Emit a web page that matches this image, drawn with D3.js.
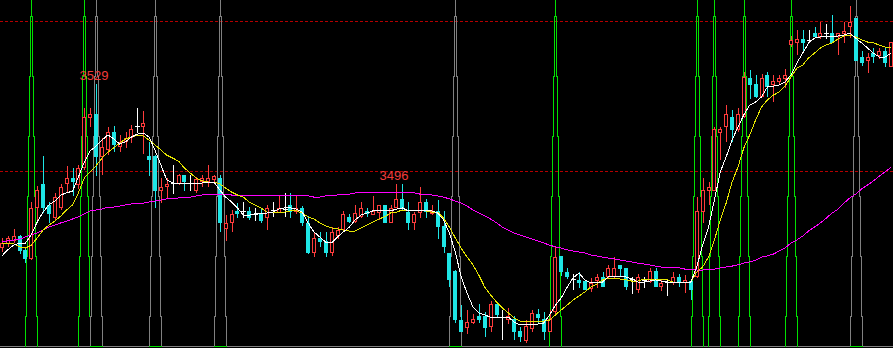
<!DOCTYPE html>
<html lang="zh">
<head>
    <meta charset="UTF-8">
    <title>K线图</title>
    <script src="https://d3js.org/d3.v7.min.js"></script>
    <style>
        body { margin: 0; background: #000; }
        svg { display: block; background: #000; }
    </style>
</head>
<body>
    <svg id="chart"></svg>

    <script>
        const width = 893;
        const height = 348;

        // daily bars
        const opens = [
            3474.3, 3475.7, 3476.7, 3478.3, 3473.7, 3470.7, 3487.7, 3495.7, 3488.7, 3484.3,
            3487.7, 3495.7, 3497.7, 3495.3, 3501, 3517.7, 3519, 3504.7, 3507, 3513,
            3508, 3509.7, 3511, 3515, 3514.7, 3505, 3505, 3493.3, 3494.7, 3496,
            3495.7, 3498.7, 3496, 3493.3, 3496.3, 3496.3, 3497, 3497.7, 3480.7, 3482.7,
            3486.7, 3486.7, 3486.7, 3485.7, 3485.7, 3484.3, 3487, 3486, 3487.3, 3488.7,
            3486.3, 3487.7, 3482.7, 3472.7, 3477.7, 3476.7, 3472.7, 3478.3, 3480.3, 3484.7,
            3483, 3484.7, 3486.7, 3485.3, 3486, 3488.7, 3482.7, 3487.7, 3490.7, 3486.3,
            3482.7, 3486, 3489.7, 3485.7, 3486.7, 3481.7, 3472.7, 3466.7, 3450.3, 3447.7,
            3449.3, 3451.7, 3451.7, 3448, 3455.7, 3451.3, 3450.3, 3450.7, 3446.7, 3443.3,
            3447.3, 3452.3, 3450.7, 3446.3, 3453, 3471.7, 3466.3, 3464, 3463.7, 3463.3,
            3460.7, 3463.3, 3464.7, 3464.7, 3464.7, 3468.7, 3467.7, 3464, 3460.3, 3463.7,
            3463, 3466.7, 3461.3, 3463, 3462.7, 3464.7, 3462.7, 3463.3, 3464.7, 3486.3,
            3493.3, 3493.3, 3512.7, 3514.7, 3518, 3513.7, 3518, 3531, 3529, 3524.7,
            3532, 3528.7, 3529.7, 3530.7, 3542, 3542.7, 3544, 3543.7, 3546, 3544.7,
            3546, 3546, 3544.7, 3545.7, 3548, 3551, 3538, 3536.7, 3539.3, 3538.3,
            3540, 3534.7
        ];
        const highs = [
            3477.7, 3478.3, 3480.7, 3478.7, 3474.3, 3489.7, 3495, 3505, 3489.7, 3492.7,
            3495.7, 3501.7, 3501, 3502, 3521, 3521, 3529, 3511, 3514.7, 3515,
            3512, 3513, 3515.3, 3521, 3520, 3509.7, 3505.3, 3497.7, 3497.7, 3502,
            3499, 3498.7, 3498.7, 3498, 3498.7, 3502, 3498.7, 3498.7, 3485.3, 3487,
            3489.3, 3489.7, 3488, 3487.7, 3487.7, 3488.7, 3489.7, 3492, 3492.7, 3492.7,
            3492, 3488.3, 3485, 3479.7, 3479.7, 3479.7, 3481.3, 3481.3, 3486.7, 3485.7,
            3488.7, 3489.7, 3487.7, 3491.7, 3488.7, 3488.7, 3488.7, 3495.7, 3495.7, 3489.7,
            3486.3, 3494.7, 3490.7, 3488.7, 3490.3, 3486.7, 3472.7, 3467, 3455.3, 3453.7,
            3452.3, 3455.7, 3453, 3456.7, 3455.7, 3453.7, 3454.3, 3451.7, 3448, 3450.3,
            3453.7, 3454, 3453, 3453.7, 3474.7, 3471.7, 3467.7, 3465.7, 3466.3, 3463.7,
            3464.3, 3465.7, 3466.3, 3468.7, 3471.3, 3468.7, 3467.7, 3464.7, 3465.7, 3464.7,
            3467.7, 3467.7, 3464, 3463.7, 3466.3, 3465.7, 3465.3, 3463.7, 3491.3, 3497.7,
            3496.3, 3514.7, 3514.7, 3522, 3520.3, 3521, 3533, 3533.7, 3532, 3532.3,
            3533, 3532, 3532, 3534, 3545, 3547, 3547, 3547, 3548, 3549.7,
            3549, 3552, 3546, 3549.7, 3555, 3551, 3540, 3539.3, 3541, 3541,
            3541, 3543
        ];
        const lows = [
            3473, 3474.7, 3476, 3472.3, 3469.3, 3470.3, 3483.7, 3486, 3482.7, 3483.3,
            3487, 3493, 3491.7, 3494, 3500.3, 3514.7, 3498.3, 3498.7, 3505.3, 3506.3,
            3506.3, 3507.7, 3509.3, 3512.7, 3505.7, 3498.3, 3487.7, 3489.3, 3490.7, 3492.3,
            3495.3, 3493.3, 3493.3, 3492.7, 3494.7, 3494.7, 3496, 3479.7, 3476.7, 3479.7,
            3484.3, 3484.3, 3483.7, 3483.3, 3482.7, 3480.3, 3484.7, 3486, 3484.7, 3484.3,
            3485.7, 3481.7, 3472.3, 3471.3, 3474.7, 3471.3, 3471.7, 3477.3, 3479.7, 3482.7,
            3482.7, 3484.3, 3484.7, 3485.3, 3483.7, 3482.7, 3482.7, 3487.7, 3486.7, 3480.3,
            3480.3, 3484.3, 3484.3, 3485.3, 3477.3, 3472.7, 3461.3, 3449.3, 3446.3, 3445.7,
            3449, 3449.3, 3444.7, 3446.3, 3451, 3443.7, 3449, 3443.7, 3443, 3442.7,
            3446.3, 3449, 3443.7, 3446.3, 3452.3, 3465, 3464, 3460.3, 3461, 3460.3,
            3459.7, 3461, 3461.3, 3464, 3464, 3464.7, 3460.3, 3459, 3459.3, 3461,
            3462.7, 3461.3, 3460, 3458.3, 3462, 3461.3, 3459.3, 3457, 3464.3, 3482.7,
            3488.7, 3493.3, 3503.7, 3509.7, 3509.7, 3513, 3517.7, 3524, 3524.3, 3524.7,
            3524.7, 3523, 3528.7, 3527.7, 3541.3, 3538.7, 3539.7, 3542.7, 3544.7, 3544,
            3544, 3542.7, 3538.7, 3542.7, 3544.3, 3536.7, 3535, 3532.7, 3536, 3537.3,
            3534.7, 3534.7
        ];
        const closes = [
            3476, 3477.7, 3478.3, 3473.3, 3470.7, 3487.7, 3493.7, 3487.7, 3485.7, 3491.3,
            3494.7, 3497.7, 3496.3, 3501, 3518, 3519, 3504.7, 3508, 3513, 3508.7,
            3509.7, 3511, 3514, 3515, 3516, 3503.7, 3493.3, 3494.7, 3495.7, 3496,
            3498.7, 3496.3, 3496, 3497.3, 3497.7, 3497.7, 3498.3, 3482.7, 3482.7, 3485.7,
            3485.7, 3486.7, 3484.3, 3485.7, 3483.3, 3487.7, 3487, 3487.7, 3487.3, 3486.3,
            3487.7, 3482.7, 3472.7, 3477.7, 3476.3, 3472.7, 3479.7, 3480.3, 3485.7, 3483,
            3486, 3487.7, 3485.7, 3486.7, 3488.7, 3482.7, 3487.7, 3490.7, 3487.3, 3482.7,
            3485.7, 3489.7, 3486.3, 3486.7, 3481.3, 3474.7, 3463.7, 3450.3, 3446.3, 3449.7,
            3450.7, 3450.3, 3447.7, 3455.7, 3452, 3451.3, 3451.7, 3446.3, 3444.7, 3448.3,
            3452.7, 3451, 3446.3, 3450.7, 3471.3, 3466.3, 3464.7, 3464, 3462.7, 3460.3,
            3462.7, 3464.7, 3461.3, 3467.7, 3467.7, 3467.3, 3461.3, 3464, 3464.7, 3463.7,
            3466.7, 3461.3, 3462.7, 3463, 3464.7, 3462.7, 3463.7, 3460.3, 3486.7, 3493.7,
            3494.7, 3514, 3514, 3519, 3513.7, 3519, 3531.3, 3528.7, 3524.7, 3531,
            3528, 3530, 3531, 3532, 3543.7, 3544, 3542.7, 3543.7, 3544.7, 3546,
            3546, 3542.7, 3546, 3546.7, 3549.7, 3536.7, 3536, 3538, 3538, 3540,
            3536, 3543
        ];

        // moving averages as drawn (white, yellow, magenta)
        const ma5 = [
            3471.7, 3473.7, 3475.3, 3476, 3476, 3478.7, 3483, 3486.3, 3488.7, 3490,
            3492, 3492.7, 3493.3, 3498, 3503, 3506.7, 3508.3, 3510.3, 3512, 3510.7,
            3509, 3509.7, 3511.3, 3512.3, 3512.7, 3511.3, 3507, 3502, 3497, 3496,
            3496, 3496, 3496, 3496, 3496, 3496.3, 3496.3, 3493.7, 3491.3, 3489.7,
            3487.7, 3485.3, 3485.3, 3485.7, 3485.7, 3486, 3486.3, 3487.3, 3487.7, 3487.7,
            3487.3, 3486.3, 3482.7, 3479.7, 3478, 3476.3, 3476, 3478, 3479.7, 3481.3,
            3483.7, 3485.3, 3486, 3486.7, 3487, 3486.7, 3486.7, 3487.3, 3487.7, 3486.7,
            3487, 3487, 3487, 3486.7, 3486, 3483.7, 3479.3, 3473, 3464.7, 3459.3,
            3454.7, 3452.7, 3452, 3451.3, 3451.3, 3451.3, 3451.3, 3449.7, 3448.7, 3448.7,
            3449, 3449, 3449.3, 3452, 3455.3, 3457.7, 3461.3, 3464.3, 3466, 3463.7,
            3462.7, 3462.7, 3463, 3464.7, 3465, 3464.7, 3464.7, 3464, 3463, 3463,
            3463.3, 3463.7, 3463.3, 3463, 3463, 3463, 3463, 3463, 3468, 3475.3,
            3481.3, 3490.3, 3499.7, 3504.7, 3510.3, 3514.7, 3518.7, 3522, 3523, 3524.7,
            3528, 3528.3, 3528.7, 3529.7, 3532, 3536, 3539.3, 3542.7, 3544.3, 3544.7,
            3544.7, 3544.7, 3545, 3545.3, 3546, 3544.3, 3542.7, 3541, 3539.3, 3538,
            3538, 3539.3
        ];
        const ma10 = [
            3476, 3476, 3475.7, 3474.7, 3474.3, 3475.3, 3477.7, 3480.3, 3482, 3483.3,
            3485, 3487, 3488.7, 3492.7, 3497.7, 3499.7, 3501.7, 3504.3, 3506.3, 3507.7,
            3509.3, 3510.7, 3511.3, 3512, 3511.7, 3510.3, 3508.7, 3507, 3505.3, 3504.3,
            3503.3, 3501, 3499.3, 3497.7, 3496.7, 3496.3, 3496.3, 3495.7, 3494.3, 3493,
            3492, 3491.3, 3489.7, 3488.7, 3487.7, 3486.3, 3486.3, 3486.3, 3486.3, 3486.7,
            3486.7, 3486, 3484.7, 3484, 3482.7, 3481.7, 3481, 3480.7, 3480.3, 3480,
            3480, 3481, 3482, 3483, 3484, 3484.7, 3486, 3486.3, 3487, 3487,
            3487, 3486.7, 3486.7, 3486.3, 3486.3, 3484.3, 3481.3, 3477.7, 3474.3, 3471.3,
            3468.7, 3465.3, 3461.3, 3458.7, 3456.3, 3454.3, 3452.7, 3451, 3450, 3450,
            3450, 3450, 3450, 3450.3, 3452, 3453.7, 3455.3, 3457, 3458.3, 3459.7,
            3461.3, 3462.3, 3463.7, 3464.3, 3464.3, 3464, 3463.7, 3463.3, 3463.3, 3464,
            3464, 3464, 3463.7, 3463.7, 3463, 3463, 3463, 3463, 3466.3, 3468,
            3471.3, 3477, 3483.7, 3489.3, 3496.3, 3501.3, 3507.7, 3512, 3517, 3521.3,
            3523.7, 3525.3, 3526.3, 3528.3, 3531.3, 3534.3, 3535.3, 3537.7, 3539.3, 3541,
            3542, 3542.7, 3544, 3545, 3545.3, 3544.7, 3543.7, 3543, 3542.7, 3542,
            3541.3, 3541
        ];
        const ma60 = [
            3476.3, 3476.7, 3477, 3477.3, 3478, 3478.7, 3479.3, 3480.3, 3481.3, 3482,
            3482.7, 3483.3, 3484, 3484.7, 3485.7, 3486.7, 3487, 3487.3, 3488, 3488,
            3488.3, 3488.7, 3489, 3489.3, 3489.3, 3489.7, 3490, 3490.3, 3490.7, 3490.7,
            3491, 3491.3, 3491.3, 3491.7, 3492, 3492.3, 3492.3, 3492.3, 3492.3, 3492,
            3492, 3491.7, 3491.7, 3491.7, 3491.7, 3491.7, 3491.7, 3491.7, 3491.7, 3491.7,
            3491.7, 3491.7, 3491.7, 3491.3, 3491.3, 3491.7, 3491.7, 3492, 3492.3, 3492.3,
            3492.7, 3492.7, 3492.7, 3493, 3493, 3493, 3493, 3493, 3493, 3492.7,
            3492.7, 3492.3, 3492.3, 3492, 3491.7, 3491.3, 3490.7, 3490, 3489.3, 3488.3,
            3487, 3486, 3485, 3484, 3482.7, 3481.3, 3480.3, 3479.3, 3478.7, 3478,
            3477.3, 3476.7, 3476, 3475.3, 3474.7, 3474.3, 3473.7, 3473.3, 3473, 3472.7,
            3472, 3471.7, 3471.3, 3471, 3470.7, 3470.3, 3470, 3469.7, 3469.3, 3469,
            3468.7, 3468.3, 3468, 3468, 3467.7, 3467.7, 3467.3, 3467.3, 3467, 3467,
            3467.3, 3467.3, 3467.7, 3468, 3468.3, 3468.7, 3469.3, 3469.7, 3470.3, 3471.3,
            3471.7, 3472.3, 3473.3, 3474.3, 3476, 3477, 3478.3, 3480, 3481.3, 3482.7,
            3484.3, 3486, 3487.3, 3489.3, 3491, 3492.3, 3494, 3495.3, 3496.7, 3498.3,
            3499.7, 3501.3
        ];

        // signal towers: bar index and colour
        const towerBars = [5, 14, 16, 26, 37, 77, 94, 118, 121, 126, 134, 145];
        const towerColors = ["#00e000", "#00e000", "#808080", "#808080", "#808080", "#808080",
                             "#00e000", "#00e000", "#00e000", "#00e000", "#00e000", "#808080"];

        const refLevels = [3550, 3500];   // dashed red lines
        const labelBars = [16, 67];       // highs marked with their value

        const svg = d3.select("#chart")
            .attr("width", width)
            .attr("height", height);

        const x = d3.scaleBand()
            .domain(d3.range(opens.length))
            .range([-1.08, 894.0]);
        const cx = i => Math.round(x(i) + x.bandwidth() / 2);

        const y = d3.scaleLinear()
            .domain([3441, 3557])
            .range([height, 0]);

        // dashed reference lines
        svg.append("g")
            .attr("shape-rendering", "crispEdges")
            .selectAll("line")
            .data(refLevels)
            .enter().append("line")
            .attr("x1", 0).attr("x2", width)
            .attr("y1", d => Math.round(y(d)) + 0.5)
            .attr("y2", d => Math.round(y(d)) + 0.5)
            .attr("stroke", "#b40000")
            .attr("stroke-dasharray", "3,2");

        // bottom axis line
        svg.append("line")
            .attr("shape-rendering", "crispEdges")
            .attr("x1", 0).attr("x2", width)
            .attr("y1", 346.5).attr("y2", 346.5)
            .attr("stroke", "#808080");

        // towers: stepped outline that narrows towards the top
        const stepY = [347, 316, 256, 196, 136, 76, 16, 0];
        function towerPath(c) {
            const p = d3.path();
            [-1, 1].forEach(side => {
                let hw = 6;
                p.moveTo(c + side * hw + 0.5, stepY[0]);
                for (let k = 1; k < stepY.length; k++) {
                    p.lineTo(c + side * hw + 0.5, stepY[k]);
                    if (k < stepY.length - 1) {
                        hw -= 1;
                        p.lineTo(c + side * hw + 0.5, stepY[k]);
                    }
                }
            });
            return p.toString();
        }

        const towers = svg.append("g").attr("shape-rendering", "crispEdges");
        towerBars.forEach((b, k) => {
            const c = cx(b);
            towers.append("path")
                .attr("d", towerPath(c))
                .attr("fill", "none")
                .attr("stroke", towerColors[k]);
            if (towerColors[k] === "#808080") {
                towers.append("line")
                    .attr("x1", c - 6).attr("x2", c + 7)
                    .attr("y1", 346.5).attr("y2", 346.5)
                    .attr("stroke", "#00e000");
            }
        });

        // candles
        const bars = d3.range(opens.length).map(i => ({
            i: i, o: opens[i], h: highs[i], l: lows[i], c: closes[i]
        }));
        const colorOf = d => d.c > d.o ? "#ff3c3c" : (d.c < d.o ? "#1ee6e6" : "#ffffff");

        const candle = svg.append("g")
            .attr("shape-rendering", "crispEdges")
            .selectAll("g")
            .data(bars)
            .enter().append("g");

        candle.append("rect")
            .attr("x", d => cx(d.i))
            .attr("width", 1)
            .attr("y", d => Math.round(y(d.h)))
            .attr("height", d => Math.max(1, Math.round(y(d.l)) - Math.round(y(d.h))))
            .attr("fill", colorOf);

        // up: hollow red box
        candle.filter(d => d.c > d.o).append("rect")
            .attr("x", d => cx(d.i) - 1.5)
            .attr("width", 3)
            .attr("y", d => Math.round(y(d.c)) + 0.5)
            .attr("height", d => Math.max(1, Math.round(y(d.o)) - Math.round(y(d.c)) - 1))
            .attr("fill", "#000")
            .attr("stroke", "#ff3c3c");

        // down: filled cyan box
        candle.filter(d => d.c < d.o).append("rect")
            .attr("x", d => cx(d.i) - 2)
            .attr("width", 4)
            .attr("y", d => Math.round(y(d.o)))
            .attr("height", d => Math.max(1, Math.round(y(d.c)) - Math.round(y(d.o))))
            .attr("fill", "#1ee6e6");

        // flat: white cross
        candle.filter(d => d.c === d.o).append("rect")
            .attr("x", d => cx(d.i) - 2)
            .attr("width", 5)
            .attr("y", d => Math.round(y(d.o)))
            .attr("height", 1)
            .attr("fill", "#ffffff");

        // moving average lines, drawn aliased like the original terminal
        const maLine = vals => d3.line()
            .x((d, i) => x(i) + x.bandwidth() / 2)
            .y(d => y(d))(vals);

        [[ma60, "#ff00ff"], [ma10, "#e6e600"], [ma5, "#ffffff"]].forEach(([vals, col]) => {
            svg.append("path")
                .attr("d", maLine(vals))
                .attr("fill", "none")
                .attr("stroke", col)
                .attr("stroke-width", 1)
                .attr("shape-rendering", "crispEdges");
        });

        // high value labels
        svg.append("g").selectAll("text")
            .data(labelBars)
            .enter().append("text")
            .attr("x", d => cx(d) - 2)
            .attr("y", d => Math.round(y(highs[d])) - 4)
            .attr("text-anchor", "middle")
            .attr("fill", "#f03c3c")
            .style("font-family", "'Liberation Sans', Arial, sans-serif")
            .style("font-size", "13px")
            .text(d => Math.round(highs[d]));
    </script>
</body>
</html>
